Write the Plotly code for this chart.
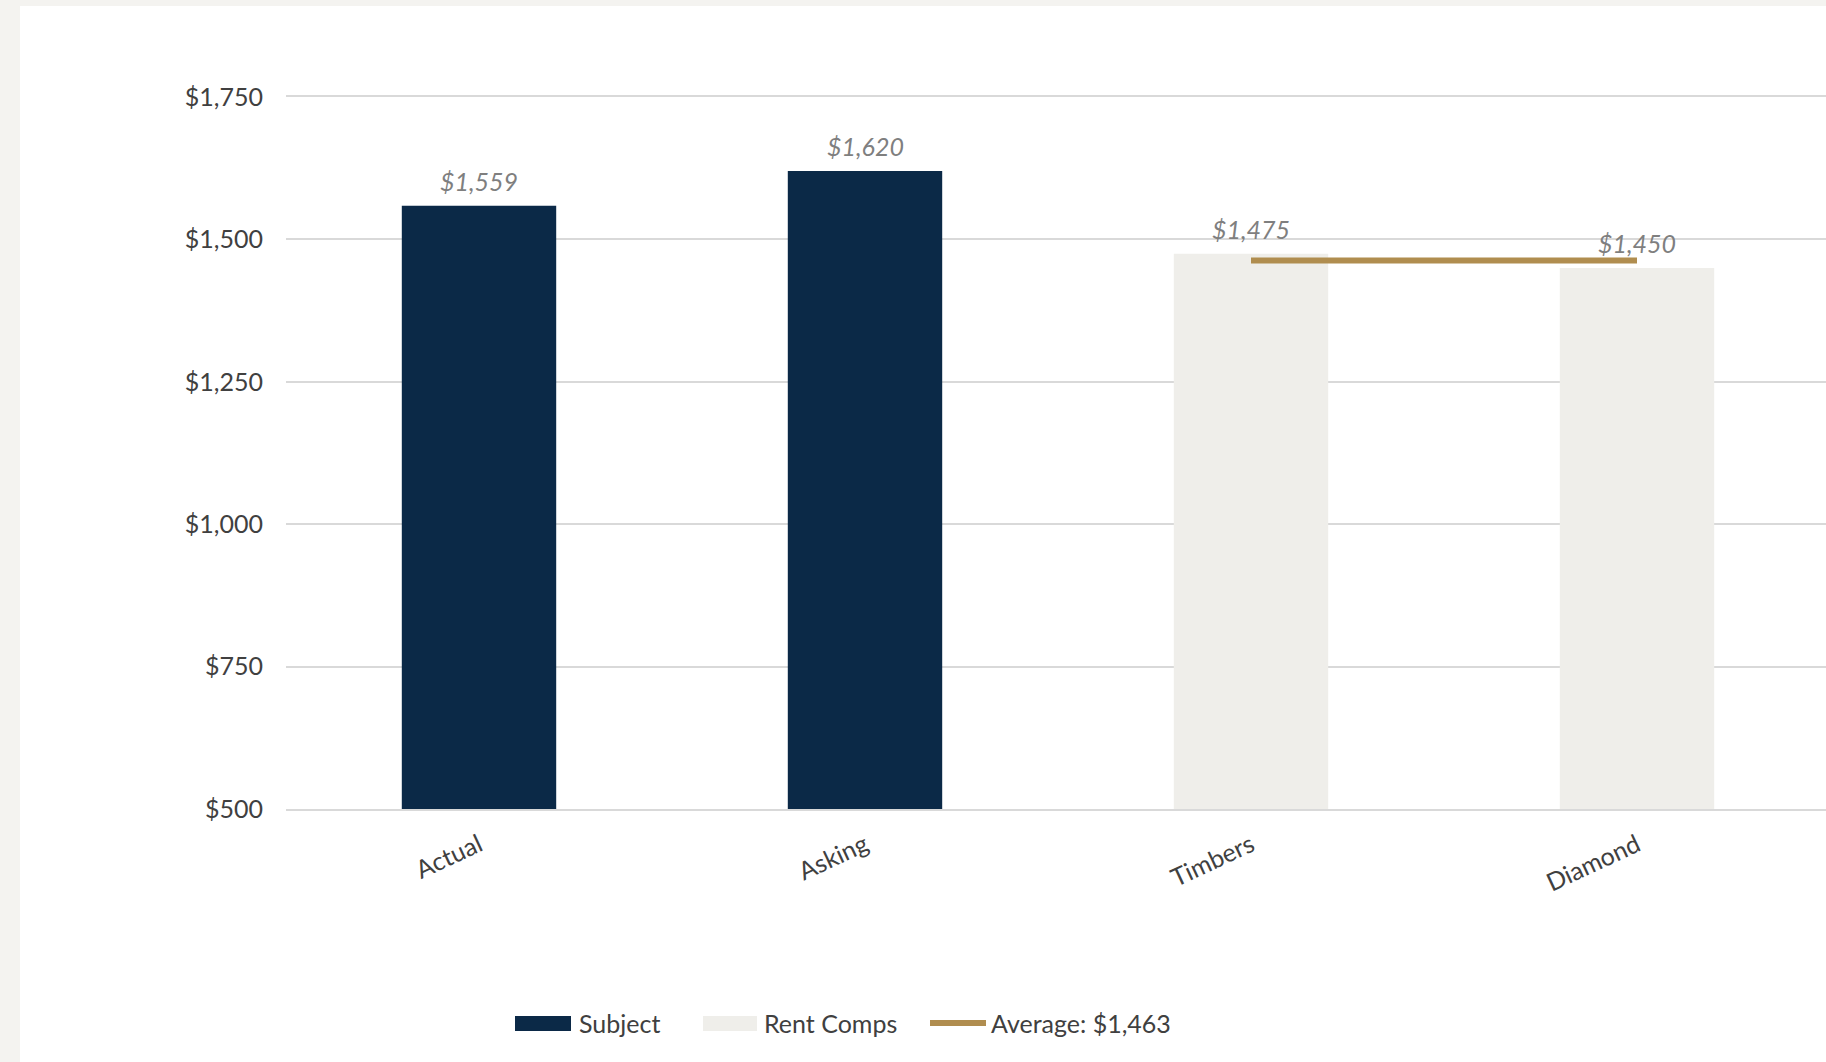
import plotly.graph_objects as go

# ---- data ----
categories = ["Actual", "Asking", "Timbers", "Diamond"]
subject_rent = [1559, 1620, None, None]
comp_rent = [None, None, 1475, 1450]
average_rent = 1463
y_ticks = [500, 750, 1000, 1250, 1500, 1750]

# ---- styling ----
NAVY = "#0b2947"
COMP = "#efeeea"
GOLD = "#b08d4f"
GRID = "#d9d9d9"
TEXT = "#404040"
LABEL = "#7f7f7f"
STRIP = "#f4f3f0"
FONT = "Lato"
FS = 25

W, H = 1826, 1062
ML, MR, MT, MB = 286, 0, 97, 253
PW, PH = W - ML - MR, H - MT - MB
CAT_PX = 386  # pixel width of one category slot


def px(x):
    return (x - ML) / PW


def py(y):
    return (H - MB - y) / PH


fig = go.Figure()

fig.add_trace(go.Bar(
    x=categories, y=subject_rent, name="Subject",
    marker=dict(color=NAVY, line=dict(width=0)), width=0.4,
    showlegend=False, hoverinfo="x+y",
))
fig.add_trace(go.Bar(
    x=categories, y=comp_rent, name="Rent Comps",
    marker=dict(color=COMP, line=dict(width=0)), width=0.4,
    showlegend=False, hoverinfo="x+y",
))
avg_x = [c for c, v in zip(categories, comp_rent) if v is not None]
fig.add_trace(go.Scatter(
    x=avg_x, y=[average_rent] * len(avg_x), mode="lines",
    name=f"Average: ${average_rent:,}",
    line=dict(color=GOLD, width=6), showlegend=False,
))

# value labels above each bar
annotations = []
for c, a, b in zip(categories, subject_rent, comp_rent):
    v = a if a is not None else b
    annotations.append(dict(
        x=c, y=v, xref="x", yref="y", text=f"<i>${v:,}</i>",
        showarrow=False, yanchor="middle", yshift=25,
        font=dict(family=FONT, size=FS, color=LABEL),
    ))

# legend drawn by hand so the swatches can be wide
shapes = [
    # decorative border strips
    dict(type="rect", xref="paper", yref="paper", x0=px(0), x1=px(20),
         y0=py(H), y1=py(0), fillcolor=STRIP, line=dict(width=0), layer="below"),
    dict(type="rect", xref="paper", yref="paper", x0=px(0), x1=px(W),
         y0=py(6), y1=py(0), fillcolor=STRIP, line=dict(width=0), layer="below"),
    # legend swatches
    dict(type="rect", xref="paper", yref="paper", x0=px(515), x1=px(571),
         y0=py(1031), y1=py(1016), fillcolor=NAVY, line=dict(width=0)),
    dict(type="rect", xref="paper", yref="paper", x0=px(703), x1=px(757),
         y0=py(1031), y1=py(1016), fillcolor=COMP, line=dict(width=0)),
    dict(type="line", xref="paper", yref="paper", x0=px(930), x1=px(986),
         y0=py(1023), y1=py(1023), line=dict(color=GOLD, width=6)),
]
legend_items = [(577, "Subject"), (762, "Rent Comps"), (989, f"Average: ${average_rent:,}")]
for x0, t in legend_items:
    annotations.append(dict(
        x=px(x0), y=py(1023), xref="paper", yref="paper", text=t,
        showarrow=False, xanchor="left", yanchor="middle",
        font=dict(family=FONT, size=FS, color=TEXT),
    ))

fig.update_layout(
    width=W, height=H,
    margin=dict(l=ML, r=MR, t=MT, b=MB),
    paper_bgcolor="white", plot_bgcolor="white",
    barmode="overlay",
    font=dict(family=FONT, size=FS, color=TEXT),
    annotations=annotations, shapes=shapes,
    showlegend=False,
)
fig.update_xaxes(
    range=[-0.5, -0.5 + PW / CAT_PX], showgrid=False,
    showline=True, mirror=True, linecolor=GRID, linewidth=2,
    ticks="", tickangle=-25,
    tickfont=dict(family=FONT, size=FS, color=TEXT),
    ticklabelstandoff=10,
)
fig.update_yaxes(
    range=[500, 1750], tickvals=y_ticks, tickformat="$,.0f",
    showgrid=True, gridcolor=GRID, gridwidth=2,
    zeroline=False, showline=False, ticks="",
    tickfont=dict(family=FONT, size=FS, color=TEXT),
    ticklabelstandoff=22,
)

fig.write_html("out.html")
